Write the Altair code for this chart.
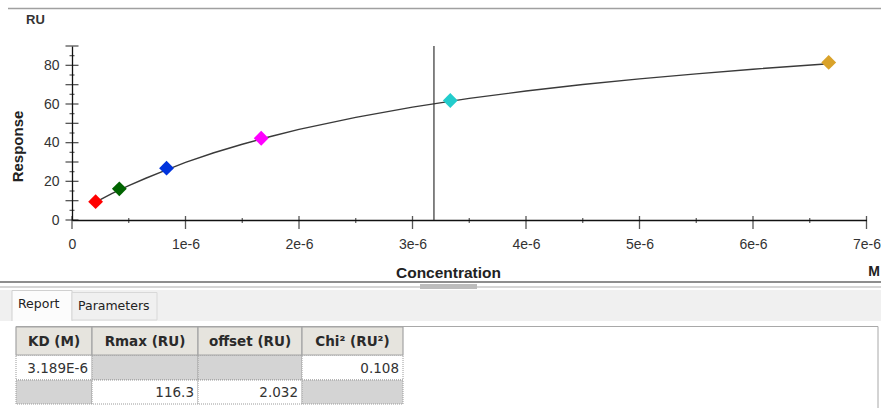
import altair as alt
import pandas as pd

# ---------------- data ----------------
conc = [0.208e-6, 0.417e-6, 0.833e-6, 1.667e-6, 3.333e-6, 6.667e-6]
resp = [9.5, 16.1, 26.8, 42.3, 61.8, 81.5]
point_colors = ["#ff0000", "#006400", "#0033dd", "#ff00ff", "#22cccc", "#d9a22a"]

curve_conc = [0.208e-6, 0.35e-6, 0.5e-6, 0.65e-6, 0.8e-6, 1.0e-6, 1.25e-6, 1.5e-6,
              1.75e-6, 2.0e-6, 2.5e-6, 3.0e-6, 3.5e-6, 4.0e-6, 4.5e-6, 5.0e-6,
              5.5e-6, 6.0e-6, 6.667e-6]
curve_resp = [9.2, 13.7, 17.8, 21.6, 25.2, 29.8, 34.8, 39.2,
              43.2, 46.9, 53.1, 58.4, 62.9, 66.7, 70.1, 73.0,
              75.6, 78.0, 80.8]

kd_value = 3.189e-6

x_ticks = [0, 1e-6, 2e-6, 3e-6, 4e-6, 5e-6, 6e-6, 7e-6]
x_tick_labels = ["0", "1e-6", "2e-6", "3e-6", "4e-6", "5e-6", "6e-6", "7e-6"]
x_minor_ticks = [0.5e-6, 1.5e-6, 2.5e-6, 3.5e-6, 4.5e-6, 5.5e-6, 6.5e-6]
y_labels = [0, 20, 40, 60, 80]
y_major_ticks = [0, 10, 20, 30, 40, 50, 60, 70, 80, 90]
y_minor_ticks = [5, 15, 25, 35, 45, 55, 65, 75, 85]

table_header = ["KD (M)", "Rmax (RU)", "offset (RU)", "Chi\u00b2 (RU\u00b2)"]
table_row1 = ["3.189E-6", "", "", "0.108"]
table_row2 = ["", "116.3", "2.032", ""]

tab_labels = ["Report", "Parameters"]
unit_y = "RU"
unit_x = "M"

# ---------------- layout / style ----------------
W, H = 881, 408
AXIS_Y = 220
AXIS_X = 72
xs = alt.Scale(domain=[0, 7e-6], range=[AXIS_X, 866.5], nice=False, zero=False)
ys = alt.Scale(domain=[0, 90], range=[AXIS_Y, 46], nice=False, zero=False)

CHART_FONT = "Liberation Sans"
TABLE_FONT = "DejaVu Sans"

label_expr = "[" + ",".join("'%s'" % s for s in x_tick_labels) + "][round(datum.value*1e6)]"

x_axis = alt.Axis(values=x_ticks, labelExpr=label_expr, ticks=False, grid=False,
                  domainColor="#111111", domainWidth=1.3,
                  labelFont=CHART_FONT, labelFontSize=14, labelColor="#333333",
                  labelPadding=17, labelFlush=False, labelOverlap=False, labelBound=False,
                  offset=-(H - AXIS_Y),
                  title="Concentration", titleX=448, titleY=57, titleAlign="center",
                  titleBaseline="alphabetic", titleFont=CHART_FONT, titleFontSize=15.5,
                  titleFontWeight="bold", titleColor="#222222")
y_axis = alt.Axis(values=y_labels, ticks=False, grid=False,
                  domainColor="#111111", domainWidth=1.3,
                  labelFont=CHART_FONT, labelFontSize=14, labelColor="#333333",
                  labelPadding=13, labelFlush=False, labelOverlap=False,
                  offset=-AXIS_X,
                  title="Response", titleX=-55, titleY=146, titleAngle=270,
                  titleAlign="center", titleBaseline="middle", titleFont=CHART_FONT,
                  titleFontSize=15, titleFontWeight="bold", titleColor="#222222")


def X(field="conc"):
    return alt.X(f"{field}:Q", scale=xs, axis=x_axis)


def Y(field="resp"):
    return alt.Y(f"{field}:Q", scale=ys, axis=y_axis)


curve_df = pd.DataFrame({"conc": curve_conc, "resp": curve_resp})
pts_df = pd.DataFrame({"conc": conc, "resp": resp})
kd_df = pd.DataFrame({"conc": [kd_value], "resp": [0], "resp_top": [90]})
ymaj_df = pd.DataFrame({"conc": [0] * len(y_major_ticks), "resp": y_major_ticks})
ymin_df = pd.DataFrame({"conc": [0] * len(y_minor_ticks), "resp": y_minor_ticks})
xmaj_df = pd.DataFrame({"conc": x_ticks, "resp": [0] * len(x_ticks)})
xmin_df = pd.DataFrame({"conc": x_minor_ticks, "resp": [0] * len(x_minor_ticks)})

curve = alt.Chart(curve_df).mark_line(color="#3a3a3a", strokeWidth=1.4).encode(x=X(), y=Y())
kd_rule = alt.Chart(kd_df).mark_rule(color="#333333", strokeWidth=1.2).encode(
    x=X(), y=Y(), y2="resp_top:Q")
ymaj = alt.Chart(ymaj_df).mark_tick(orient="horizontal", size=13, thickness=1.3,
                                    color="#111111").encode(x=X(), y=Y())
ymin = alt.Chart(ymin_df).mark_tick(orient="horizontal", size=5, thickness=1.2,
                                    color="#111111").encode(x=X(), y=Y())
xmaj = alt.Chart(xmaj_df).mark_tick(orient="vertical", size=13, thickness=1.3,
                                    color="#111111", yOffset=2.5).encode(x=X(), y=Y())
xmin = alt.Chart(xmin_df).mark_tick(orient="vertical", size=5, thickness=1.2,
                                    color="#111111", yOffset=0.5).encode(x=X(), y=Y())
points = alt.Chart(pts_df).mark_point(shape="diamond", size=220, filled=True, opacity=1).encode(
    x=X(), y=Y(),
    color=alt.Color("conc:N", scale=alt.Scale(domain=conc, range=point_colors), legend=None))

plot = alt.layer(curve, kd_rule, ymaj, ymin, xmaj, xmin, points)

# ---------------- table ----------------
cells = []
for i, h in enumerate(table_header):
    cells.append({"col": i, "row": 0, "text": h, "kind": "header"})
for r, row in enumerate([table_row1, table_row2], start=1):
    for i, t in enumerate(row):
        cells.append({"col": i, "row": r, "text": t, "kind": "value" if t else "empty"})
tdf = pd.DataFrame(cells)

tx = alt.Scale(domain=[0, 1, 2, 3, 4], range=[16, 92, 198, 302, 403], zero=False, nice=False)
ty = alt.Scale(domain=[0, 1, 2, 3], range=[327, 355, 380, 404], zero=False, nice=False)
kind_scale = alt.Scale(domain=["header", "value", "empty"], range=["#e6e4de", "#ffffff", "#d4d4d4"])

tbase = alt.Chart(tdf).transform_calculate(
    c2="datum.col + 1", r2="datum.row + 1", cm="datum.col + 0.5", rm="datum.row + 0.5")

body_rect = tbase.transform_filter("datum.row > 0").mark_rect(
    stroke="#9a9a9a", strokeWidth=1, strokeDash=[1, 1]).encode(
    x=alt.X("col:Q", scale=tx, axis=None), x2="c2:Q",
    y=alt.Y("row:Q", scale=ty, axis=None), y2="r2:Q",
    color=alt.Color("kind:N", scale=kind_scale, legend=None))
head_rect = tbase.transform_filter("datum.row == 0").mark_rect(
    stroke="#a4a4a4", strokeWidth=1.2).encode(
    x=alt.X("col:Q", scale=tx, axis=None), x2="c2:Q",
    y=alt.Y("row:Q", scale=ty, axis=None), y2="r2:Q",
    color=alt.Color("kind:N", scale=kind_scale, legend=None))
head_text = tbase.transform_filter("datum.row == 0").mark_text(
    font=TABLE_FONT, fontSize=13.5, fontWeight="bold", color="#2a2a2a",
    align="center", baseline="middle", dy=1).encode(
    x=alt.X("cm:Q", scale=tx, axis=None), y=alt.Y("rm:Q", scale=ty, axis=None), text="text:N")
body_text = tbase.transform_filter("datum.row > 0").mark_text(
    font=TABLE_FONT, fontSize=13.5, color="#333333",
    align="right", baseline="middle", dx=-4, dy=1).encode(
    x=alt.X("c2:Q", scale=tx, axis=None), y=alt.Y("rm:Q", scale=ty, axis=None), text="text:N")

table = alt.layer(body_rect, head_rect, head_text, body_text)

# ---------------- window chrome ----------------
one = alt.Data(values=[{"k": 1}])


def hrule(x1, x2, y, color, w):
    return alt.Chart(one).mark_rule(color=color, strokeWidth=w).encode(
        x=alt.value(x1), x2=alt.value(x2), y=alt.value(y))


def vrule(x, y1, y2, color, w):
    return alt.Chart(one).mark_rule(color=color, strokeWidth=w).encode(
        x=alt.value(x), y=alt.value(y1), y2=alt.value(y2))


def box(x1, x2, y1, y2, fill, stroke=None):
    kw = {"fill": fill}
    if stroke:
        kw["stroke"] = stroke
        kw["strokeWidth"] = 1
    return alt.Chart(one).mark_rect(**kw).encode(
        x=alt.value(x1), x2=alt.value(x2), y=alt.value(y1), y2=alt.value(y2))


def label(txt, x, y, font, size, weight="normal", color="#222222", align="left"):
    return alt.Chart(one).mark_text(font=font, fontSize=size, fontWeight=weight, color=color,
                                    align=align, baseline="middle").encode(
        x=alt.value(x), y=alt.value(y), text=alt.value(txt))


chrome = [
    hrule(8, 881, 8.5, "#a0a0a0", 1.5),
    box(0, 881, 290, 321, "#f0f0f0"),
    hrule(0, 881, 282, "#8e8e8e", 2),
    hrule(0, 881, 287, "#d6d6d6", 2),
    box(420, 477, 284, 289, "#bcbcbc"),
    box(12, 72, 290.5, 322, "#fcfcfc", "#d0d0d0"),
    box(72, 157, 292.5, 320, "#f0f0f0", "#d8d8d8"),
    box(0, 881, 321, 408, "#ffffff"),
    hrule(16, 878, 326.5, "#a8a8a8", 1),
    vrule(878, 326.5, 408, "#a8a8a8", 1),
    label(tab_labels[0], 18, 304, TABLE_FONT, 12.5),
    label(tab_labels[1], 78, 306, TABLE_FONT, 12.5),
    label(unit_y, 26, 20, CHART_FONT, 13, "bold", "#333333"),
    label(unit_x, 880, 272, CHART_FONT, 14, "bold", "#222222", "right"),
]

chart = alt.layer(*chrome, table, plot).resolve_scale(
    x="independent", y="independent", color="independent"
).properties(
    width=W, height=H, padding=0, background="#ffffff",
    autosize=alt.AutoSizeParams(type="none")
).configure_view(stroke=None)

chart.save("out.html", embed_options={"renderer": "svg", "actions": False})
